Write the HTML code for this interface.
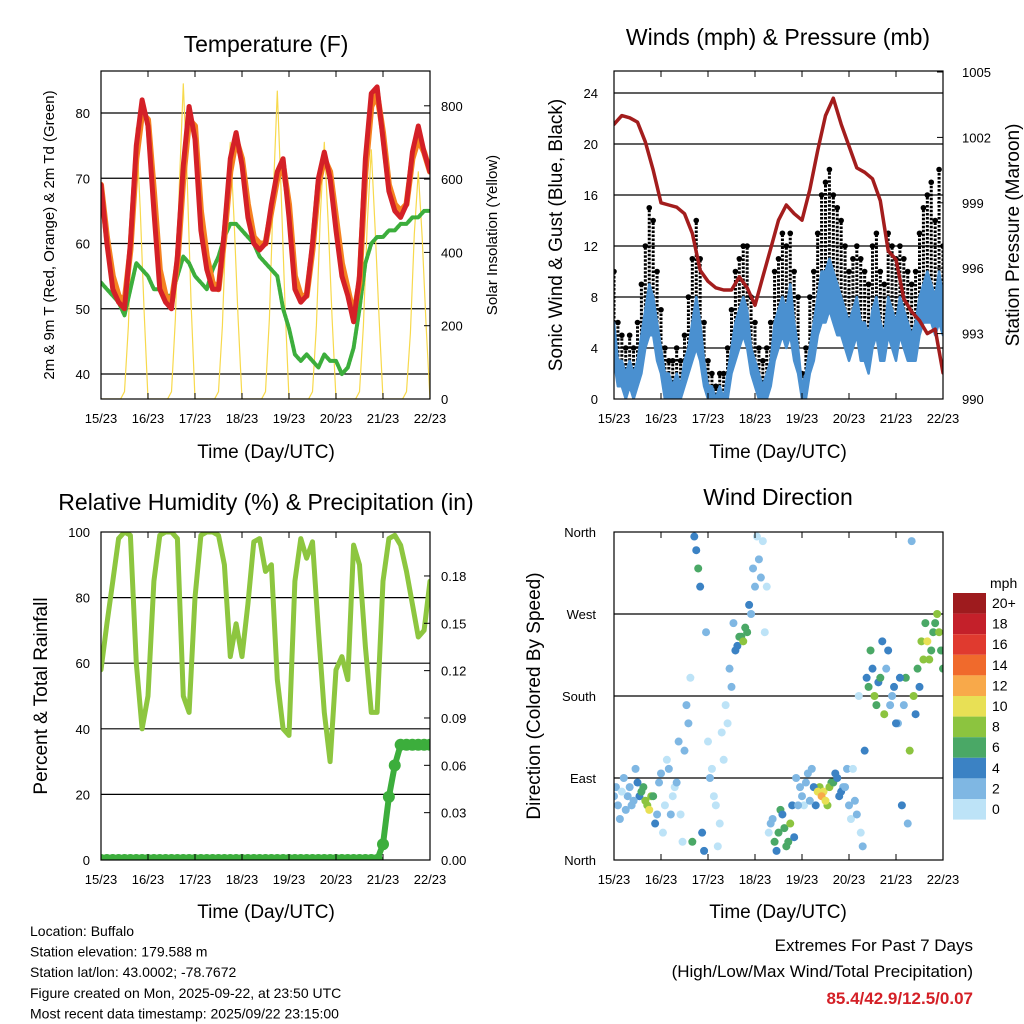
<!DOCTYPE html>
<html><head><meta charset="utf-8"><style>
body{margin:0;background:#fff;}
svg{display:block;font-family:"Liberation Sans",sans-serif;}
</style></head><body>
<svg id="c" width="1024" height="1024" viewBox="0 0 1024 1024" xmlns="http://www.w3.org/2000/svg"></svg>
<script>
// ---------------- DATA ----------------
const dayLabels = ["15/23","16/23","17/23","18/23","19/23","20/23","21/23","22/23"];
// 3-hourly (h=0..168)
const tempRed = [69,60,53,51,50,60,75,82,78,65,53,51,50,58,72,81,76,62,56,53,53,62,73,77,72,64,60,59,60,66,71,73,64,53,51,52,60,70,74,70,62,55,52,48,55,73,83,84,76,68,65,64,66,74,78,74,71];
const tempOrange = [69,61,55,52,51,59,73,80,79,68,56,52,51,57,70,79,78,65,58,54,53,61,71,76,73,66,61,60,60,65,70,72,66,55,52,52,59,69,73,71,64,57,53,49,54,71,81,83,77,69,66,65,66,73,76,74,71];
const dewGreen = [54,53,52,51,49,53,57,56,55,53,53,52,52,55,58,57,55,54,53,56,58,61,63,63,62,61,60,58,57,56,55,50,47,43,42,43,42,41,43,42,42,40,41,44,50,57,60,61,61,62,62,63,63,64,64,65,65];
// 2-hourly solar (h=0..168)
const solar = [0,0,0,0,0,0,20,200,520,740,520,240,
               0,0,0,0,0,0,20,220,580,860,600,260,
               0,0,0,0,0,0,20,200,500,700,480,220,
               0,0,0,0,0,0,20,220,560,840,560,250,
               0,0,0,0,0,0,20,200,500,700,480,220,
               0,0,0,0,0,0,20,200,480,680,460,220,
               0,0,0,0,0,0,20,180,450,620,440,200,0];
// 2-hourly wind (h=0..168)
const windSpeed = [6,3,3,2,3,2,3,5,7,9,8,6,4,2,2,1,2,1,3,4,6,8,6,3,1,1,0,1,0,2,4,6,7,8,7,4,3,2,1,2,3,6,7,8,7,9,6,4,1,2,4,6,8,10,10,11,10,9,8,7,6,7,8,6,6,5,7,8,6,5,8,7,6,8,7,6,5,6,8,9,10,9,8,10,8];
const windMin = [3,1,1,0,1,0,1,2,4,5,5,3,2,0,0,0,0,0,1,2,3,4,3,1,0,0,0,0,0,0,2,3,4,5,4,2,1,0,0,0,1,3,4,5,4,5,3,2,0,0,2,3,5,6,6,7,6,5,5,4,3,4,5,3,3,2,4,5,3,3,5,4,3,5,4,3,3,3,5,6,6,6,5,6,5];
const windGust = [10,6,5,4,5,4,6,9,12,15,14,10,7,4,3,3,4,3,5,8,11,14,11,6,3,2,1,2,2,4,7,10,11,12,12,8,6,4,3,4,6,10,11,13,12,13,10,8,2,4,8,10,13,16,17,18,16,15,14,12,10,11,12,11,10,9,12,13,10,9,13,12,11,12,11,10,9,10,13,15,16,17,14,18,12];
// 4-hourly pressure (h=0..168)
const pressure = [1002.6,1003.0,1002.9,1002.7,1001.8,1000.5,999.0,998.9,998.8,998.5,997.6,995.9,995.4,995.1,995.0,995.0,995.6,995.1,994.3,995.6,996.9,998.2,998.9,998.5,998.2,999.6,1001.4,1003.0,1003.8,1002.6,1001.6,1000.6,1000.4,1000.1,999.1,996.8,996.4,994.6,994.0,993.6,993.0,993.2,991.2];
// 3-hourly RH & precip
const rh = [58,72,85,98,100,99,60,40,50,85,99,100,100,98,50,45,80,99,100,100,99,90,62,72,62,78,97,98,88,90,55,40,38,85,98,92,97,70,45,30,58,62,55,96,90,65,45,45,85,98,99,96,88,78,68,70,85];
const precip = [0,0,0,0,0,0,0,0,0,0,0,0,0,0,0,0,0,0,0,0,0,0,0,0,0,0,0,0,0,0,0,0,0,0,0,0,0,0,0,0,0,0,0,0,0,0,0,0,0.01,0.04,0.06,0.073,0.073,0.073,0.073,0.073,0.073];
// wind direction (deg) and speed (mph): even hours and odd hours
const windDir = [70,60,75,55,80,65,85,75,65,55,70,50,95,60,100,70,85,50,120,150,20,340,300,10,130,100,60,40,110,150,190,230,245,240,250,270,300,330,350,300,40,20,30,50,15,40,25,60,70,85,65,80,75,70,65,80,85,90,75,80,60,100,50,30,120,190,210,170,200,160,230,180,150,200,170,40,350,160,190,220,240,230,260,250,210];
const dirSpeed = [3,2,1,3,2,2,4,6,8,10,7,3,2,1,2,0,2,1,2,2,6,4,4,5,1,1,0,1,0,1,2,4,6,8,6,3,2,2,1,0,2,6,7,5,6,8,5,3,2,3,2,4,10,12,10,8,6,4,5,3,2,1,2,1,4,6,4,7,6,8,5,3,4,5,3,2,2,4,5,8,10,7,6,8,7];
const windDir2 = [80,45,90,70,60,100,70,80,60,70,40,85,30,110,50,80,130,20,170,200,355,320,30,250,90,70,15,140,170,210,260,235,245,255,280,320,355,310,250,30,45,10,55,35,20,60,90,80,60,95,100,60,80,75,60,85,95,70,80,100,45,65,180,15,200,230,180,195,240,210,170,190,150,60,200,120,180,210,240,260,220,250,270,230];
const dirSpeed2 = [2,3,2,2,3,2,5,7,9,8,4,2,1,1,2,1,2,1,2,1,4,6,5,3,2,1,1,0,1,2,3,5,7,6,4,2,1,2,1,1,3,5,7,6,6,5,3,2,1,2,3,5,9,11,9,7,5,4,3,2,1,2,1,3,5,6,8,5,4,3,3,4,2,4,6,9,8,7,8,6,9,7,8,6];
const legendLabels = ["20+","18","16","14","12","10","8","6","4","2","0"];

// ---------------- DRAW ----------------
const svg = document.getElementById('c');
const NS = "http://www.w3.org/2000/svg";
function mk(tag, attrs, parent){const e=document.createElementNS(NS,tag);for(const k in attrs)e.setAttribute(k,attrs[k]);(parent||svg).appendChild(e);return e;}
function txt(s,x,y,size,anchor,extra,parent){const e=mk('text',Object.assign({x:x,y:y,'font-size':size,'text-anchor':anchor||'middle',fill:'#000'},extra||{}),parent);e.textContent=s;return e;}
const speedColors=["#bde3f7","#7fb7e3","#3b82c4","#4aa866","#8cc43f","#e8e055","#f8a94a","#f06a2c","#e03a2f","#c4202a","#9e1b1e"];
function colorFor(s){return speedColors[Math.min(10,Math.floor(s/2))];}

function panel(name,L,R,T,B){
  const g=mk('g',{});
  
  
  const xs=h=>L+(R-L)*h/168;
  return {g,L,R,T,B,xs};
}
function frame(p,gridYs){
  gridYs.forEach(y=>{const l=mk('line',{x1:p.L,x2:p.R,y1:y,y2:y,stroke:'#000','stroke-width':1.2},p.g);});
}
function border(p){
  const r=mk('rect',{x:p.L,y:p.T,width:p.R-p.L,height:p.B-p.T,fill:'none',stroke:'#000','stroke-width':1.2},p.g);
  
  for(let d=0;d<=7;d++){const x=p.L+(p.R-p.L)*d/7;
    mk('line',{x1:x,x2:x,y1:p.B,y2:p.B-6,stroke:'#000'},p.g);
    mk('line',{x1:x,x2:x,y1:p.T,y2:p.T+6,stroke:'#000'},p.g);
    const t=txt(dayLabels[d],x,p.B+24,13,'middle',{},p.g);
    
  }
}
function line(p,arr,step,yf,color,w,name,extra){
  const pts=arr.map((v,i)=>p.xs(i*step).toFixed(1)+','+yf(v).toFixed(1)).join(' ');
  const e=mk('polyline',Object.assign({points:pts,fill:'none',stroke:color,'stroke-width':w,'stroke-linejoin':'round','stroke-linecap':'round'},extra||{}),p.g);
  return e;
}
function dots(p,arr,step,yf,colorf,r,name,off){
  const g=mk('g',{},p.g);
  arr.forEach((v,i)=>{const c=mk('circle',{cx:p.xs(i*step+(off||0)),cy:yf(v),r:r,fill:typeof colorf==='function'?colorf(i):colorf},g);
    });
}
function clip(p,id){const cp=mk('clipPath',{id:id});mk('rect',{x:p.L,y:p.T,width:p.R-p.L,height:p.B-p.T},cp);}

// Panel 1: Temperature
{
 const p=panel('temperature-panel',101,430,71,399);
 const yT=v=>374-(v-40)*6.525, yS=s=>399-s*0.3665;
 clip(p,'c1');
 frame(p,[40,50,60,70,80].map(yT));
 const inner=mk('g',{'clip-path':'url(#c1)'},p.g);
 const q=Object.assign({},p,{g:inner});
 line(q,solar,2,yS,'#f7d94c',1.2,'solar-line');
 line(q,dewGreen,3,yT,'#3cae3c',4,'dewpoint-line',{'stroke-dasharray':'3 1.5'});
 line(q,tempOrange,3,yT,'#f58220',6,'temp-9m-line');
 line(q,tempRed,3,yT,'#d42027',5,'temp-2m-line');
 border(p);
 [40,50,60,70,80].forEach(v=>{const t=txt(String(v),90,yT(v)+5,13,'end',{},p.g);});
 [0,200,400,600,800].forEach(v=>{mk('line',{x1:p.R,x2:p.R-6,y1:yS(v),y2:yS(v),stroke:'#000'},p.g);const t=txt(String(v),441,yS(v)+5,13,'start',{},p.g);});
 let t=txt('Temperature (F)',266,52,23);
 t=txt('Time (Day/UTC)',266,458,19);
 t=txt('2m & 9m T (Red, Orange) & 2m Td (Green)',0,0,15,'middle',{transform:'translate(54,235) rotate(-90)'});
 t=txt('Solar Insolation (Yellow)',0,0,15,'middle',{transform:'translate(497,235) rotate(-90)'});
}
// Panel 2: Winds
{
 const p=panel('winds-panel',614,943,71,399);
 const yW=v=>399-v*12.75, yP=v=>399-(v-990)*21.8;
 clip(p,'c2');
 frame(p,[4,8,12,16,20,24].map(yW));
 const inner=mk('g',{'clip-path':'url(#c2)'},p.g);
 const q=Object.assign({},p,{g:inner});
 const gb=mk('g',{},inner);
 windGust.forEach((v,i)=>{const l=mk('line',{x1:p.xs(i*2),x2:p.xs(i*2),y1:yW(windSpeed[i]),y2:yW(v),stroke:'#000','stroke-width':3,'stroke-dasharray':'2.5 1.5'},gb);});
 dots(q,windGust,2,yW,'#000',2.8,'gust-dots');
 const band=windSpeed.map((v,i)=>p.xs(i*2).toFixed(1)+','+yW(v).toFixed(1)).concat(windMin.map((v,i)=>[i,v]).reverse().map(([i,v])=>p.xs(i*2).toFixed(1)+','+yW(v).toFixed(1))).join(' ');
 const bp=mk('polygon',{points:band,fill:'#4a90d0',stroke:'#4a90d0','stroke-width':2.5,'stroke-linejoin':'round'},inner);
 line(q,pressure,4,yP,'#a31d1d',3.5,'pressure-line');
 border(p);
 [0,4,8,12,16,20,24].forEach(v=>{const t=txt(String(v),598,yW(v)+5,13,'end',{},p.g);});
 [990,993,996,999,1002,1005].forEach(v=>{mk('line',{x1:p.R,x2:p.R-6,y1:yP(v),y2:yP(v),stroke:'#000'},p.g);const t=txt(String(v),962,yP(v)+5,13,'start',{},p.g);});
 let t=txt('Winds (mph) & Pressure (mb)',778,45,23);
 t=txt('Time (Day/UTC)',778,458,19);
 t=txt('Sonic Wind & Gust (Blue, Black)',0,0,19,'middle',{transform:'translate(562,235) rotate(-90)'});
 t=txt('Station Pressure (Maroon)',0,0,19,'middle',{transform:'translate(1019,235) rotate(-90)'});
}
// Panel 3: RH
{
 const p=panel('humidity-panel',101,430,532,860);
 const yR=v=>860-v*3.28, yPr=v=>860-v*1578;
 clip(p,'c3');
 frame(p,[20,40,60,80].map(yR));
 const inner=mk('g',{'clip-path':'url(#c3)'},p.g);
 const q=Object.assign({},p,{g:inner});
 line(q,rh,3,yR,'#8dc63f',5,'rh-line');
 dots(q,precip,3,yPr,'#3cae3c',6,'precip-dots');
 line(q,precip,3,yPr,'#3cae3c',6,'precip-line');
 border(p);
 [0,20,40,60,80,100].forEach(v=>{const t=txt(String(v),90,yR(v)+5,13,'end',{},p.g);});
 [0,0.03,0.06,0.09,0.12,0.15,0.18].forEach(v=>{mk('line',{x1:p.R,x2:p.R-6,y1:yPr(v),y2:yPr(v),stroke:'#000'},p.g);const t=txt(v.toFixed(2),441,yPr(v)+5,13,'start',{},p.g);});
 let t=txt('Relative Humidity (%) & Precipitation (in)',266,510,23);
 t=txt('Time (Day/UTC)',266,918,19);
 t=txt('Percent & Total Rainfall',0,0,19,'middle',{transform:'translate(47,696) rotate(-90)'});
}
// Panel 4: Wind direction
{
 const p=panel('wind-direction-panel',614,943,532,860);
 const yD=v=>860-v*0.9111;
 clip(p,'c4');
 frame(p,[90,180,270].map(yD));
 const inner=mk('g',{'clip-path':'url(#c4)'},p.g);
 const q=Object.assign({},p,{g:inner});
 dots(q,windDir2,2,yD,i=>colorFor(dirSpeed2[i]),4,'direction-dots-odd',1);
 dots(q,windDir,2,yD,i=>colorFor(dirSpeed[i]),4,'direction-dots');
 border(p);
 ['North','East','South','West','North'].forEach((s,i)=>{const t=txt(s,596,yD(i*90)+5,13,'end',{},p.g);});
 let t=txt('Wind Direction',778,505,23);
 t=txt('Time (Day/UTC)',778,918,19);
 t=txt('Direction (Colored By Speed)',0,0,19,'middle',{transform:'translate(540,696) rotate(-90)'});
 const lg=mk('g',{});
 t=txt('mph',990,588,14,'start',{},lg);
 legendLabels.forEach((s,i)=>{const y=593+i*20.6;
   const r=mk('rect',{x:953,y:y,width:33,height:20.6,fill:speedColors[10-i]},lg);
   const tt=txt(s,992,y+15,14,'start',{},lg);});
}
// footer
{
 const lines=["Location: Buffalo","Station elevation: 179.588 m","Station lat/lon: 43.0002; -78.7672","Figure created on Mon, 2025-09-22, at 23:50 UTC","Most recent data timestamp: 2025/09/22 23:15:00"];
 lines.forEach((s,i)=>{const t=txt(s,30,936+i*20.6,14,'start');});
 let t=txt('Extremes For Past 7 Days',973,951,17,'end');
 t=txt('(High/Low/Max Wind/Total Precipitation)',973,977,17,'end');
 t=txt('85.4/42.9/12.5/0.07',973,1004,17,'end',{fill:'#d42027','font-weight':'bold'});
}
</script>
</body></html>
